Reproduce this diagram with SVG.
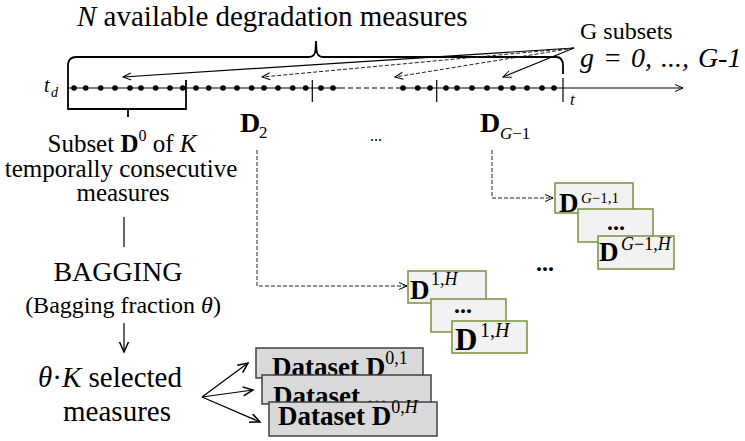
<svg xmlns="http://www.w3.org/2000/svg" width="745" height="441" viewBox="0 0 745 441">
<defs>
<style>
text{font-family:"Liberation Serif","Times New Roman",serif;fill:#000}
.it{font-style:italic}
.b{font-weight:bold}
.ln{fill:none;stroke:#000;stroke-width:1.2}
.br{fill:none;stroke:#000;stroke-width:1.8}
.dash{fill:none;stroke:#222;stroke-width:1;stroke-dasharray:4 2}
.tick{stroke:#000;stroke-width:1.2}
.dot{fill:#000}
.gbox{fill:#d9d9d9;stroke:#404040;stroke-width:1.5}
.vbox{fill:#f2f2f2;stroke:#77933c;stroke-width:1.5}
</style>
<marker id="ah" viewBox="-10 -6 12 12" markerWidth="12" markerHeight="12" refX="0" refY="0" orient="auto" markerUnits="userSpaceOnUse">
<path d="M-8,-3.5 L0,0 L-8,3.5" fill="none" stroke="#000" stroke-width="1"/>
</marker>
<marker id="ahb" viewBox="-12 -7 14 14" markerWidth="14" markerHeight="14" refX="0" refY="0" orient="auto" markerUnits="userSpaceOnUse">
<path d="M-10,-4.5 L0,0 L-10,4.5" fill="none" stroke="#000" stroke-width="1.5"/>
</marker>
</defs>

<g id="title">
<text x="77" y="26" font-size="29"><tspan class="it">N</tspan> available degradation measures</text>
</g>

<g id="gsubsets">
<text x="580" y="39" font-size="24">G subsets</text>
<text x="580" y="67" font-size="28" class="it" word-spacing="2">g = 0, ..., G-1</text>
</g>

<g id="timeline">
<path class="ln" d="M68,88 L340,88"/>
<path class="ln" d="M340,88 L400,88" stroke-dasharray="5 3"/>
<path class="ln" d="M400,88 L683,88" marker-end="url(#ah)"/>
<line class="tick" x1="312.3" y1="80" x2="312.3" y2="102"/>
<line class="tick" x1="436.7" y1="80" x2="436.7" y2="102"/>
<line class="tick" x1="563" y1="78" x2="563" y2="102"/>
<g>
<circle class="dot" cx="74" cy="88" r="2.8"/><circle class="dot" cx="85.7" cy="88" r="2.8"/><circle class="dot" cx="100.7" cy="88" r="2.8"/><circle class="dot" cx="115" cy="88" r="2.8"/><circle class="dot" cx="130" cy="88" r="2.8"/><circle class="dot" cx="141" cy="88" r="2.8"/><circle class="dot" cx="155.7" cy="88" r="2.8"/><circle class="dot" cx="170" cy="88" r="2.8"/><circle class="dot" cx="182.7" cy="88" r="2.8"/>
<circle class="dot" cx="196" cy="88" r="2.8"/><circle class="dot" cx="208.7" cy="88" r="2.8"/><circle class="dot" cx="223" cy="88" r="2.8"/><circle class="dot" cx="237" cy="88" r="2.8"/><circle class="dot" cx="251.7" cy="88" r="2.8"/><circle class="dot" cx="264" cy="88" r="2.8"/><circle class="dot" cx="278" cy="88" r="2.8"/><circle class="dot" cx="292.7" cy="88" r="2.8"/><circle class="dot" cx="305.7" cy="88" r="2.8"/>
<circle class="dot" cx="321" cy="88" r="2.8"/><circle class="dot" cx="333" cy="88" r="2.8"/>
<circle class="dot" cx="403" cy="88" r="2.8"/><circle class="dot" cx="417.7" cy="88" r="2.8"/><circle class="dot" cx="430" cy="88" r="2.8"/>
<circle class="dot" cx="446" cy="88" r="2.8"/><circle class="dot" cx="457" cy="88" r="2.8"/><circle class="dot" cx="472" cy="88" r="2.8"/><circle class="dot" cx="487" cy="88" r="2.8"/><circle class="dot" cx="501" cy="88" r="2.8"/><circle class="dot" cx="513" cy="88" r="2.8"/><circle class="dot" cx="527" cy="88" r="2.8"/><circle class="dot" cx="542" cy="88" r="2.8"/><circle class="dot" cx="554" cy="88" r="2.8"/>
</g>
<text x="44" y="92" font-size="20" class="it">t</text>
<text x="51" y="97" font-size="14" class="it">d</text>
<text x="570" y="105" font-size="17" class="it">t</text>
<path class="br" d="M68,72 L68,64 Q69,57 76,57 L309,57 Q315,57 315.5,50 L316,41 L316.5,50 Q317,57 323,57 L556,57 Q563,57 563,66 L563,74"/>
<path class="br" d="M68,72 L68,109 L186,109 L186,80"/>
<line class="br" x1="128" y1="109" x2="128" y2="117"/>
</g>

<g id="labelD2">
<text x="240" y="132" font-size="28" class="b">D</text>
<text x="259" y="138" font-size="17">2</text>
</g>
<g id="midDots">
<text x="370" y="141" font-size="16">...</text>
</g>
<g id="labelDG">
<text x="480" y="132" font-size="28" class="b">D</text>
<text x="500" y="139" font-size="17"><tspan class="it">G</tspan>−1</text>
</g>

<g id="subsetText">
<text x="122" y="152" font-size="25" text-anchor="middle">Subset <tspan class="b">D</tspan><tspan font-size="16" dy="-11">0</tspan><tspan dy="11"> of </tspan><tspan class="it">K</tspan></text>
<text x="121" y="177" font-size="25" text-anchor="middle">temporally consecutive</text>
<text x="123" y="201" font-size="25" text-anchor="middle">measures</text>
</g>

<g id="bagging">
<text x="118" y="281" font-size="28" text-anchor="middle">BAGGING</text>
<text x="123" y="313" font-size="24" text-anchor="middle">(Bagging fraction <tspan class="it">θ</tspan>)</text>
</g>

<g id="selected">
<text x="110" y="387" font-size="29" text-anchor="middle"><tspan class="it">θ</tspan>·<tspan class="it">K</tspan> selected</text>
<text x="117" y="421" font-size="29" text-anchor="middle">measures</text>
</g>

<g id="datasets0">
<rect class="gbox" x="256" y="348" width="167" height="30"/>
<text x="272" y="376" font-size="27" class="b">Dataset D<tspan font-size="18" font-weight="normal" dy="-12">0,1</tspan></text>
<rect class="gbox" x="262" y="375" width="169" height="29"/>
<text x="273" y="405" font-size="27" class="b">Dataset ...</text>
<rect class="gbox" x="269" y="402" width="168" height="34"/>
<text x="278" y="425" font-size="27" class="b">Dataset D<tspan font-size="18" font-weight="normal" dy="-12">0,</tspan><tspan font-size="18" font-weight="normal" class="it">H</tspan></text>
</g>

<g id="datasets1">
<rect class="vbox" x="408" y="271" width="78" height="32"/>
<text x="410" y="299" font-size="27" class="b">D</text>
<text x="431" y="285" font-size="18">1,<tspan class="it">H</tspan></text>
<rect class="vbox" x="431" y="299" width="75" height="33"/>
<text x="463" y="313" font-size="24" class="b" text-anchor="middle">...</text>
<rect class="vbox" x="452" y="321" width="75" height="32"/>
<text x="455" y="350" font-size="31" class="b">D</text>
<text x="480" y="337" font-size="20">1,<tspan class="it">H</tspan></text>
</g>

<g id="groupDots">
<text x="545" y="271" font-size="24" class="b" text-anchor="middle">...</text>
</g>

<g id="datasetsG">
<rect class="vbox" x="555" y="183" width="78" height="30"/>
<text x="559" y="212" font-size="27" class="b">D</text>
<text x="581" y="203" font-size="15"><tspan class="it">G</tspan>−1,1</text>
<rect class="vbox" x="578" y="209" width="75" height="33"/>
<text x="616" y="230" font-size="24" class="b" text-anchor="middle">...</text>
<rect class="vbox" x="598" y="236" width="76" height="33"/>
<text x="599" y="261" font-size="27" class="b">D</text>
<text x="621" y="250" font-size="18"><tspan class="it">G</tspan>−1,<tspan class="it">H</tspan></text>
</g>

<g id="connectors">
<line class="ln" x1="574" y1="48" x2="123" y2="77" stroke-width="1" marker-end="url(#ah)"/>
<line class="dash" x1="574" y1="48" x2="262" y2="77" marker-end="url(#ah)"/>
<line class="dash" x1="574" y1="48" x2="395" y2="77" marker-end="url(#ah)"/>
<line class="ln" x1="574" y1="48" x2="503" y2="77" stroke-width="1" marker-end="url(#ah)"/>
<path class="dash" d="M257,150 L257,286 L407,286" marker-end="url(#ah)"/>
<path class="dash" d="M492,150 L492,198 L553,198" marker-end="url(#ah)"/>
<line class="ln" x1="124" y1="217" x2="124" y2="247" stroke-width="1.5"/>
<line class="ln" x1="124" y1="323" x2="124" y2="352" marker-end="url(#ahb)"/>
<line class="ln" x1="202" y1="397" x2="248" y2="363" stroke-width="1.5" marker-end="url(#ahb)"/>
<line class="ln" x1="202" y1="397" x2="253" y2="390" stroke-width="1.5" marker-end="url(#ahb)"/>
<line class="ln" x1="202" y1="397" x2="260" y2="422" stroke-width="1.5" marker-end="url(#ahb)"/>
</g>
</svg>
